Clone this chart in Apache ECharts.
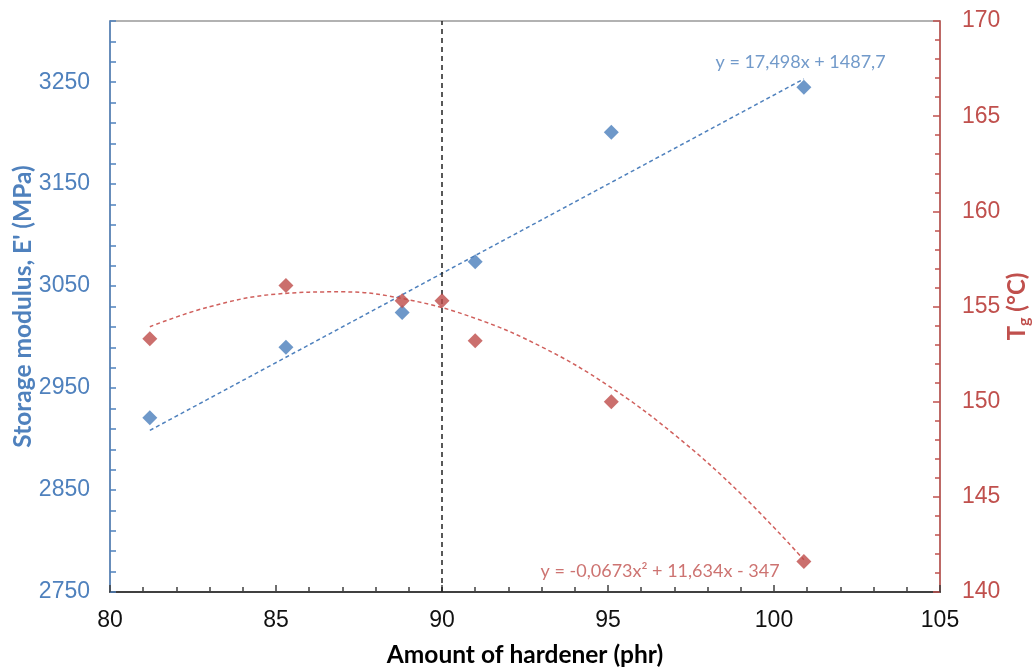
<!DOCTYPE html>
<html>
<head>
<meta charset="utf-8">
<script src="https://cdn.jsdelivr.net/npm/echarts@6/dist/echarts.min.js"></script>
<style>
html,body{margin:0;padding:0;background:#fff;}
#chart{width:1032px;height:668px;}
</style>
</head>
<body>
<div id="chart"></div>
<script>
// ---- data ----
const hardenerModulus = [81.2, 85.3, 88.8, 91.0, 95.1, 100.9];
const storageModulus = [2921, 2990, 3024, 3074, 3201, 3245];

const hardenerTg = [81.2, 85.3, 88.8, 90.0, 91.0, 95.1, 100.9];
const glassTransition = [153.3, 156.1, 155.3, 155.3, 153.2, 150.0, 141.6];

// trend lines as drawn in the reference
const modulusTrendX = [81.2, 100.9];
const modulusTrendY = [2908.5, 3253.2];
const tgTrendX = [81.2, 83, 85, 87, 89, 91, 93, 95, 97, 99, 100.9];
const tgTrendY = [153.94, 154.99, 155.65, 155.77, 155.35, 154.38, 152.88, 150.85, 148.27, 145.16, 141.70];

const markerX = [90];
const modulusEquation = 'y = 17,498x + 1487,7';
const tgEquation = 'y = -0,0673x\u00B2 + 11,634x - 347';
const modulusEqAnchor = [100.8, 3270];
const tgEqAnchor = [96.57, 141.1];

const xTitle = 'Amount of hardener (phr)';
const yLeftTitle = "Storage modulus, E' (MPa)";

// ---- styling ----
const BLUE = '#4F81BD';
const RED = '#C0504D';
const FONT = "'Liberation Sans', Arial, sans-serif";
const EQFONT = "Lato, 'Open Sans', sans-serif";

const zip = (a, b) => a.map((v, i) => [v, b[i]]);

const chart = echarts.init(document.getElementById('chart'), null, {renderer: 'canvas'});

chart.setOption({
  animation: false,
  backgroundColor: '#fff',
  grid: {left: 110, right: 92, top: 21, bottom: 76, outerBoundsMode: 'none', containLabel: false,
    show: true, borderColor: '#999', borderWidth: 1.5},
  xAxis: {
    type: 'value', min: 80, max: 105, interval: 5,
    name: xTitle, nameLocation: 'middle', nameGap: 51, nameMoveOverlap: false,
    nameTextStyle: {fontSize: 24.5, fontWeight: 'bold', color: '#000', fontFamily: EQFONT},
    axisLine: {show: true, onZero: false, lineStyle: {color: '#404040', width: 2}},
    axisTick: {show: true, inside: true, length: 7, lineStyle: {color: '#404040', width: 1.5}},
    minorTick: {show: true, splitNumber: 5, length: 5, lineStyle: {color: '#404040', width: 1.5}},
    axisLabel: {fontSize: 23, color: '#111', margin: 17, fontFamily: FONT},
    splitLine: {show: false}
  },
  yAxis: [
    {
      type: 'value', min: 2750, max: 3310, interval: 20, position: 'left',
      name: yLeftTitle, nameLocation: 'middle', nameGap: 74, nameRotate: 90, nameMoveOverlap: false,
      nameTextStyle: {fontSize: 24.5, fontWeight: 'bold', color: BLUE, fontFamily: EQFONT},
      axisLine: {show: true, onZero: false, lineStyle: {color: BLUE, width: 1.5}},
      axisTick: {show: true, inside: true, length: 6, lineStyle: {color: BLUE, width: 1.5}},
      axisLabel: {
        fontSize: 23, color: BLUE, margin: 20, fontFamily: FONT,
        formatter: v => (Math.round(v - 2750) % 100 === 0 ? String(v) : '')
      },
      splitLine: {show: false}
    },
    {
      type: 'value', min: 140, max: 170, interval: 5, position: 'right',
      name: '{t|T}{s|g}{t| (°C)}', nameLocation: 'middle', nameGap: 62, nameRotate: 90, nameMoveOverlap: false,
      nameTextStyle: {
        color: RED, fontFamily: EQFONT,
        rich: {
          t: {fontSize: 24, fontWeight: 'bold', color: RED, fontFamily: EQFONT, lineHeight: 30},
          s: {fontSize: 16, fontWeight: 'bold', color: RED, fontFamily: EQFONT, verticalAlign: 'bottom', lineHeight: 30}
        }
      },
      axisLine: {show: true, onZero: false, lineStyle: {color: RED, width: 1.5}},
      axisTick: {show: true, inside: true, length: 7, lineStyle: {color: RED, width: 1.5}},
      minorTick: {show: true, splitNumber: 5, length: 5, lineStyle: {color: RED, width: 1.5}},
      axisLabel: {fontSize: 23, color: RED, margin: 22, fontFamily: FONT},
      splitLine: {show: false}
    }
  ],
  series: [
    {
      name: 'modulus trend', type: 'line', yAxisIndex: 0, z: 2,
      data: zip(modulusTrendX, modulusTrendY), symbol: 'none',
      lineStyle: {color: BLUE, width: 1.5, type: [4, 3]},
      markLine: {
        silent: true, symbol: 'none', label: {show: false},
        lineStyle: {color: '#222', width: 1.5, type: [5, 4]},
        data: markerX.map(v => ({xAxis: v}))
      }
    },
    {
      name: 'Tg trend', type: 'line', yAxisIndex: 1, z: 2, smooth: 0.4,
      data: zip(tgTrendX, tgTrendY), symbol: 'none',
      lineStyle: {color: '#D0605D', width: 1.5, type: [4, 3]}
    },
    {
      name: "E'", type: 'scatter', yAxisIndex: 0, z: 5,
      data: zip(hardenerModulus, storageModulus),
      symbol: 'diamond', symbolSize: 15,
      itemStyle: {color: '#4A7EBB'}
    },
    {
      name: 'Tg', type: 'scatter', yAxisIndex: 1, z: 5,
      data: zip(hardenerTg, glassTransition),
      symbol: 'diamond', symbolSize: 15,
      itemStyle: {color: '#BE4B48'}
    },
    {
      name: 'eq modulus', type: 'scatter', yAxisIndex: 0, z: 6, silent: true,
      data: [modulusEqAnchor], symbolSize: 0,
      label: {show: true, position: 'inside', formatter: modulusEquation,
        fontSize: 18, color: BLUE, fontFamily: EQFONT}
    },
    {
      name: 'eq tg', type: 'scatter', yAxisIndex: 1, z: 6, silent: true,
      data: [tgEqAnchor], symbolSize: 0,
      label: {show: true, position: 'inside', formatter: tgEquation,
        fontSize: 18, color: RED, fontFamily: EQFONT}
    }
  ]
});
</script>
</body>
</html>
